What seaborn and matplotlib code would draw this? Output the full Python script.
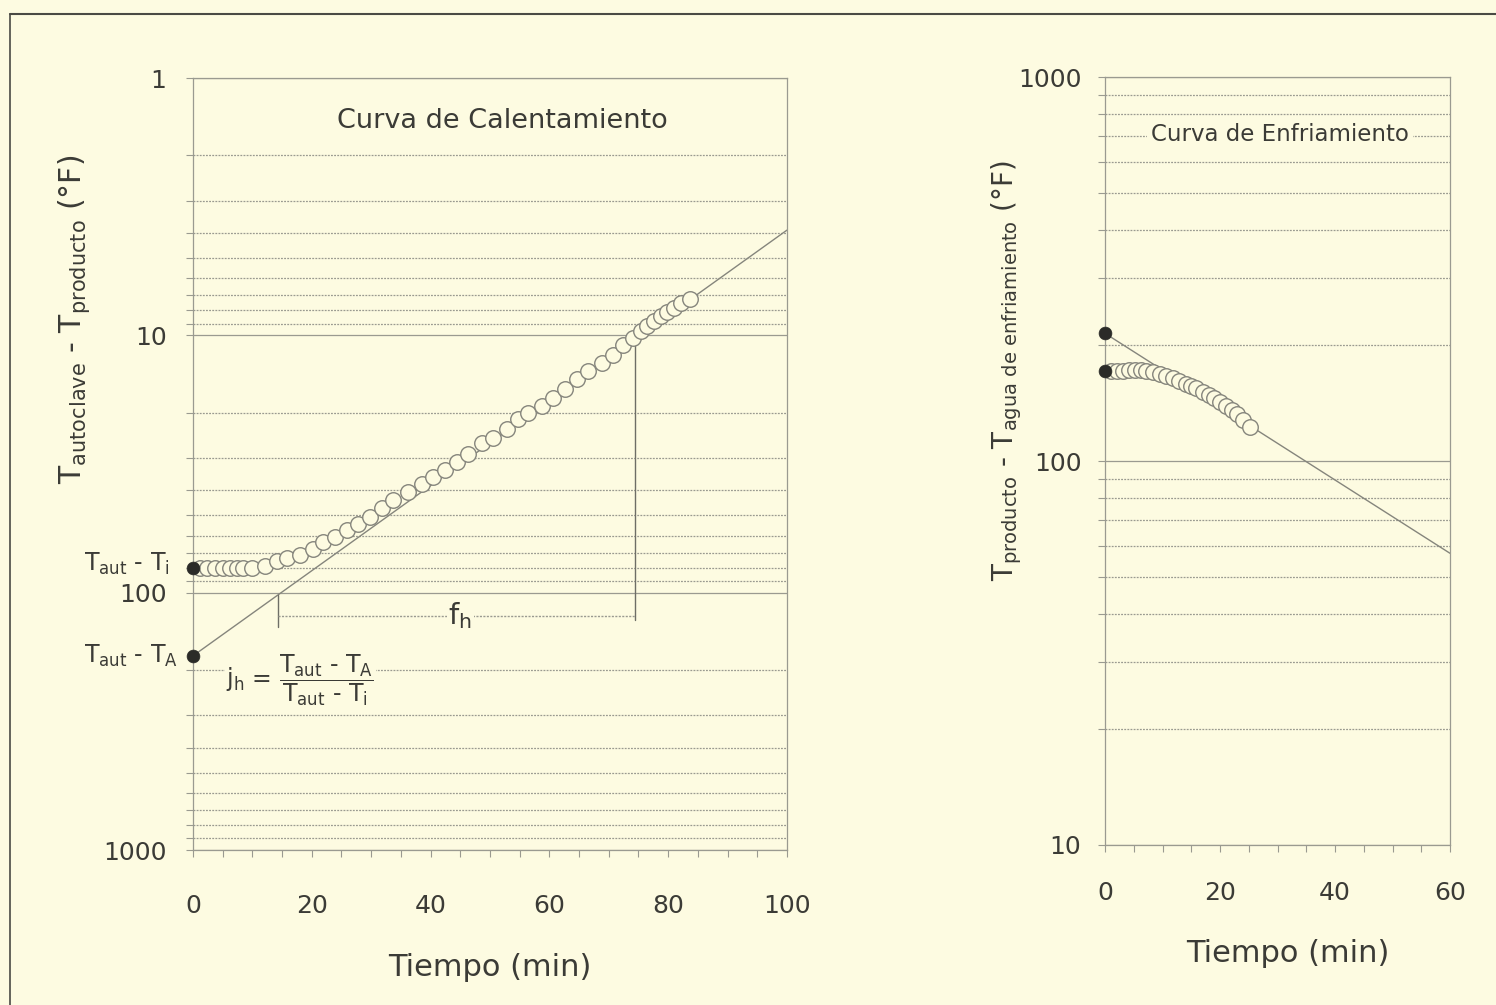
import matplotlib
matplotlib.use("Agg")
import numpy as np
import pandas as pd
import seaborn as sns
import matplotlib.pyplot as plt
from matplotlib.lines import Line2D
from matplotlib.ticker import FixedLocator, NullFormatter, MultipleLocator

# ---------------- data ----------------
# heating curve (Curva de Calentamiento)
heat_t = [1.2, 2.4, 3.7, 5.0, 6.2, 7.4, 8.4, 9.9, 12.1, 14.1, 15.9, 18.0, 20.2, 21.9,
          23.9, 25.9, 27.8, 29.8, 31.8, 33.7, 36.2, 38.6, 40.4, 42.4, 44.4, 46.3, 48.7,
          50.5, 52.9, 54.7, 56.4, 58.8, 60.6, 62.6, 64.6, 66.5, 68.9, 70.7, 72.4, 74.1,
          75.4, 76.4, 77.6, 78.8, 79.8, 81.0, 82.2, 83.7]
heat_v = [80.5, 80.5, 80.5, 80.5, 80.5, 80.5, 80.5, 80.5, 79.0, 75.0, 73.6, 71.7, 67.8, 63.6,
          60.9, 57.1, 54.1, 50.8, 46.9, 43.6, 40.6, 37.7, 35.4, 33.3, 31.2, 29.0, 26.3,
          25.1, 23.2, 21.1, 20.0, 18.8, 17.5, 16.1, 14.8, 13.7, 12.8, 11.9, 10.9, 10.2,
          9.6, 9.2, 8.8, 8.4, 8.1, 7.8, 7.5, 7.2]
heat_start_t = [0, 0]
heat_start_v = [80.5, 176]          # Taut - Ti , Taut - TA
heat_line_t = [0, 100]
heat_line_v = [176, 3.9]
fh_t = [14.3, 74.4]                 # f_h bracket ends
fh_top = [102, 10.2]
fh_bottom = [136, 128]
fh_level = 123

# cooling curve (Curva de Enfriamiento)
cool_t = [1.0, 2.0, 3.2, 4.2, 5.2, 6.2, 7.2, 8.3, 9.5, 10.6, 11.8, 12.8, 14.0, 15.0, 15.9,
          17.0, 18.0, 19.0, 20.0, 21.0, 22.1, 23.0, 24.0, 25.2]
cool_v = [172, 171.9, 171.9, 172.5, 172.5, 172.5, 171.9, 171.0, 168.7, 166.5, 164.2, 161.5,
          158.7, 156.8, 154.6, 151.4, 148.5, 145.6, 142.6, 139.3, 135.8, 132.5, 127.8, 122.7]
cool_start_t = [0, 0]
cool_start_v = [215, 172]
cool_line_t = [0, 60]
cool_line_v = [215, 57.5]

heat_yticks = [1, 10, 100, 1000]
heat_xticks = [0, 20, 40, 60, 80, 100]
cool_yticks = [10, 100, 1000]
cool_xticks = [0, 20, 40, 60]

# ---------------- style ----------------
BG = "#FDFBE1"
TXT = "#3b3b36"
GRID = "#9a9a90"
EDGE = "#85857c"
DOT = "#2b2b28"

sns.set_theme(style="white")
plt.rcParams["font.family"] = ["DejaVu Sans"]
plt.rcParams["mathtext.fontset"] = "dejavusans"
plt.rcParams["text.color"] = TXT
plt.rcParams["axes.labelcolor"] = TXT
plt.rcParams["xtick.color"] = GRID
plt.rcParams["ytick.color"] = GRID
plt.rcParams["xtick.labelcolor"] = TXT
plt.rcParams["ytick.labelcolor"] = TXT

fig = plt.figure(figsize=(14.96, 10.05), dpi=100, facecolor=BG)
W, H = 1496, 1005
ax1 = fig.add_axes([193 / W, 1 - 850 / H, (787 - 193) / W, (850 - 78) / H])
ax2 = fig.add_axes([1105 / W, 1 - 845 / H, (1450 - 1105) / W, (845 - 77) / H])

minor_log = [m * 10 ** e for e in range(0, 3) for m in range(2, 10)]

for ax in (ax1, ax2):
    ax.set_facecolor(BG)
    ax.set_yscale("log")
    for s in ax.spines.values():
        s.set_color(GRID)
        s.set_linewidth(0.9)
    ax.yaxis.set_minor_locator(FixedLocator(minor_log))
    ax.yaxis.set_minor_formatter(NullFormatter())
    ax.grid(False)
    ax.yaxis.grid(True, which="major", color=GRID, lw=0.9, ls="-")
    ax.yaxis.grid(True, which="minor", color=GRID, lw=0.9, ls=(0, (1.5, 1)))
    ax.tick_params(axis="both", which="both", direction="out", length=5, width=0.8,
                   bottom=True, left=True)
    ax.tick_params(axis="y", which="major", labelsize=18, pad=14)
    ax.xaxis.set_minor_locator(MultipleLocator(5))

MS = 125
# ---------- heating ----------
sns.lineplot(x=heat_line_t, y=heat_line_v, ax=ax1, color=EDGE, lw=1.0, zorder=2)
sns.scatterplot(x=heat_t, y=heat_v, ax=ax1, s=MS, marker="o", color=BG,
                edgecolor=EDGE, linewidth=1.0, zorder=3, legend=False)
sns.scatterplot(x=heat_start_t, y=heat_start_v, ax=ax1, s=85, marker="o", color=DOT,
                edgecolor=DOT, linewidth=0.5, zorder=4, legend=False, clip_on=False)

# f_h bracket
for t, top, bot in zip(fh_t, fh_top, fh_bottom):
    ax1.plot([t, t], [top, bot], color="#6e6e66", lw=1.0, zorder=2)
ax1.plot(fh_t, [fh_level, fh_level], color=GRID, lw=1.0, ls=(0, (1.5, 1)), zorder=2)
ax1.text(45, fh_level, r"f$_\mathregular{h}$", fontsize=21, ha="center", va="center",
         color=TXT, zorder=5, bbox=dict(facecolor=BG, edgecolor="none", pad=1))

ax1.text(5.6, 218,
         r"$\mathregular{j_h}$ = $\dfrac{\mathregular{T_{aut}}\text{ - }\mathregular{T_A}}"
         r"{\mathregular{T_{aut}}\text{ - }\mathregular{T_i}}$",
         fontsize=17, ha="left", va="center", color=TXT, zorder=5,
         bbox=dict(facecolor=BG, edgecolor="none", pad=1))

ax1.annotate(r"T$_\mathregular{aut}$ - T$_\mathregular{i}$", xy=(0, heat_start_v[0]),
             xytext=(-17, 3), textcoords="offset points", ha="right", va="center",
             fontsize=17, color=TXT, annotation_clip=False)
ax1.annotate(r"T$_\mathregular{aut}$ - T$_\mathregular{A}$", xy=(0, heat_start_v[1]),
             xytext=(-11, 0), textcoords="offset points", ha="right", va="center",
             fontsize=17, color=TXT, annotation_clip=False)

ax1.set_xlim(0, 100)
ax1.set_ylim(1000, 1)
ax1.set_yticks(heat_yticks)
ax1.set_yticklabels([str(v) for v in heat_yticks])
ax1.set_xticks(heat_xticks)
ax1.set_xticklabels([str(v) for v in heat_xticks])
ax1.tick_params(axis="x", which="major", labelsize=18, pad=27)
ax1.text(0.52, 0.944, "Curva de Calentamiento", transform=ax1.transAxes,
         fontsize=19.5, ha="center", va="center", color=TXT)
ax1.set_xlabel("Tiempo (min)", fontsize=22)
ax1.xaxis.set_label_coords(0.5, -0.134)
ax1.set_ylabel(r"T$_\mathregular{autoclave}$ - T$_\mathregular{producto}$ (°F)",
               fontsize=21.5, va="center")
ax1.yaxis.set_label_coords(-0.2, 0.687)

# ---------- cooling ----------
sns.lineplot(x=cool_line_t, y=cool_line_v, ax=ax2, color=EDGE, lw=1.0, zorder=2)
sns.scatterplot(x=cool_t, y=cool_v, ax=ax2, s=MS, marker="o", color=BG,
                edgecolor=EDGE, linewidth=1.0, zorder=3, legend=False)
sns.scatterplot(x=cool_start_t, y=cool_start_v, ax=ax2, s=85, marker="o", color=DOT,
                edgecolor=DOT, linewidth=0.5, zorder=4, legend=False, clip_on=False)

ax2.set_xlim(0, 60)
ax2.set_ylim(10, 1000)
ax2.set_yticks(cool_yticks)
ax2.set_yticklabels([str(v) for v in cool_yticks])
ax2.set_xticks(cool_xticks)
ax2.set_xticklabels([str(v) for v in cool_xticks])
ax2.tick_params(axis="x", which="major", labelsize=18, pad=21)
ax2.tick_params(axis="y", which="major", pad=12)
ax2.text(0.507, 0.9245, "Curva de Enfriamiento", transform=ax2.transAxes,
         fontsize=16.5, ha="center", va="center", color=TXT, zorder=5,
         bbox=dict(facecolor=BG, edgecolor="none", pad=3))
ax2.set_xlabel("Tiempo (min)", fontsize=22)
ax2.xaxis.set_label_coords(0.53, -0.122)
ax2.set_ylabel(r"T$_\mathregular{producto}$ - T$_\mathregular{agua\ de\ enfriamiento}$ (°F)",
               fontsize=20, va="center")
ax2.yaxis.set_label_coords(-0.285, 0.618)

# page border of the scanned frame
fig.add_artist(Line2D([10 / W, 1.0], [1 - 14 / H, 1 - 14 / H], color="#4a4a44", lw=1.5))
fig.add_artist(Line2D([10 / W, 10 / W], [0.0, 1 - 14 / H], color="#4a4a44", lw=1.2))

fig.savefig("out.png", dpi=100, facecolor=BG)
